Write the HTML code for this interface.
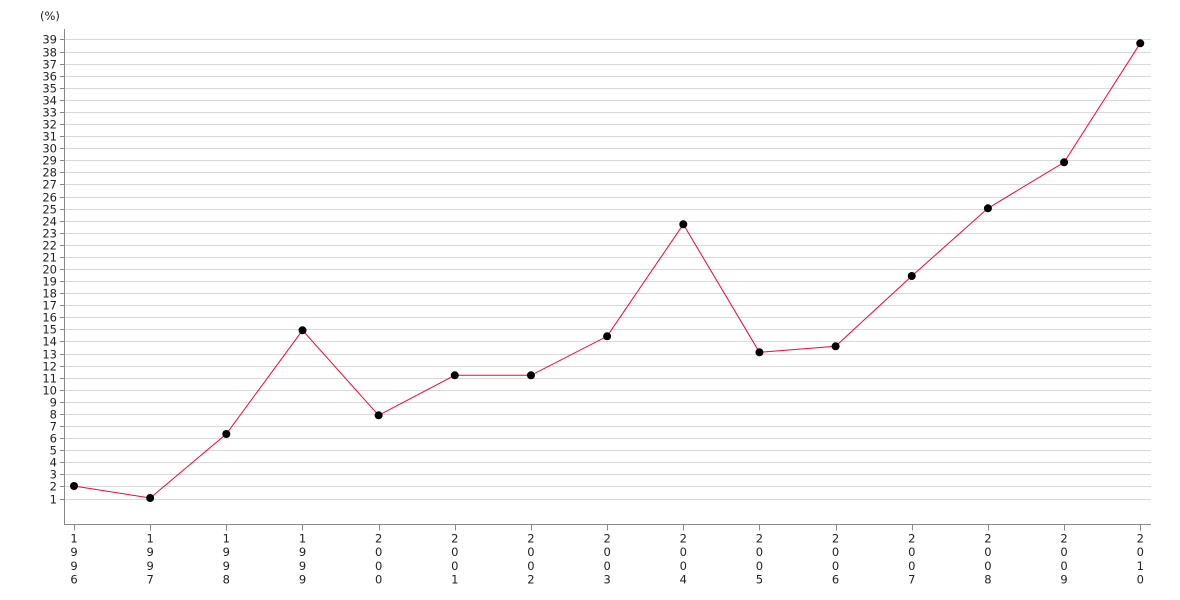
<!DOCTYPE html>
<html><head><meta charset="utf-8"><style>
html,body{margin:0;padding:0;background:#fff;}
svg{display:block;}
text{font-family:"DejaVu Sans","Liberation Sans",sans-serif;font-size:11.5px;fill:#222;}
</style></head><body>
<svg width="1180" height="600" viewBox="0 0 1180 600" xmlns="http://www.w3.org/2000/svg">
<text x="40" y="20">(%)</text>
<g id="grid" stroke="#d9d9d9" stroke-width="1"></g>
<g id="yt"></g>
<line x1="64.5" y1="29" x2="64.5" y2="525" stroke="#888" stroke-width="1"/>
<line x1="64.5" y1="524.5" x2="1151" y2="524.5" stroke="#888" stroke-width="1"/>
<g id="xt"></g>
<polyline id="ln" fill="none" stroke="#ff0033" stroke-width="1"/>
<g id="pts" fill="#000"></g>
<script>
(function(){
var ns="http://www.w3.org/2000/svg";
function el(t,a,p,txt){var e=document.createElementNS(ns,t);for(var k in a)e.setAttribute(k,a[k]);if(txt!==undefined)e.textContent=txt;p.appendChild(e);return e;}
var grid=document.getElementById('grid'),yt=document.getElementById('yt'),xt=document.getElementById('xt');
function Y(v){return 498.5-(v-1)*12.079;}
for(var v=1;v<=39;v++){
  var y=Math.round(Y(v))+0.5;
  el('line',{x1:65,y1:y,x2:1151,y2:y},grid);
  el('line',{x1:60,y1:y,x2:64.5,y2:y,stroke:'#888','stroke-width':1},yt);
  el('text',{x:57,y:y+4,'text-anchor':'end'},yt,String(v));
}
var ys=[486,498,434,330.3,415.3,375.3,375.3,336.3,224.3,352.3,346.3,276,208.3,162.3,43.3];
var years=[];for(var i=0;i<15;i++)years.push(String(1996+i));
var pts=[];
for(var i=0;i<15;i++){
  var x=74+76.16*i;
  pts.push(x.toFixed(1)+','+ys[i]);
  var xr=Math.round(x)+0.5;
  el('line',{x1:xr,y1:525,x2:xr,y2:530.5,stroke:'#888','stroke-width':1},xt);
  for(var j=0;j<4;j++){
    el('text',{x:x,y:542.5+j*13.67,'text-anchor':'middle'},xt,years[i][j]);
  }
}
document.getElementById('ln').setAttribute('points',pts.join(' '));
var g=document.getElementById('pts');
for(var i=0;i<15;i++){el('circle',{cx:74+76.16*i,cy:ys[i],r:4},g);}
})();
</script>
</svg>
</body></html>
